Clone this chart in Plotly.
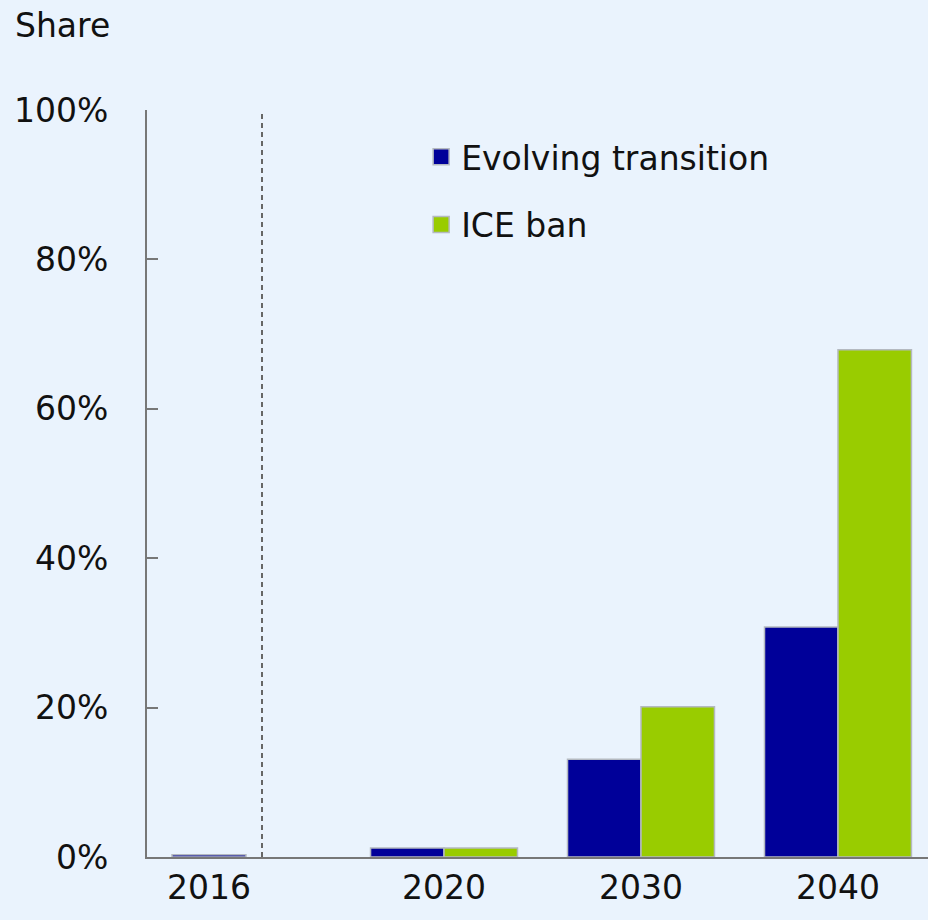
import plotly.graph_objects as go
from plotly.subplots import make_subplots

# Data
hist_years = ["2016"]
hist_share = [0.3]

proj_years = ["2020", "2030", "2040"]
evolving = [1.2, 13.1, 30.8]
ice_ban = [1.2, 20.1, 67.9]

series_names = ["Evolving transition", "ICE ban"]

y_ticks = [0, 20, 40, 60, 80, 100]
y_labels = ["0%", "20%", "40%", "60%", "80%", "100%"]

BLUE = "#000099"
GREEN = "#99CC00"
EDGE = "#B4B9C0"
BG = "#EAF3FD"
FONT = "DejaVu Sans"

fig = make_subplots(rows=1, cols=2, shared_yaxes=True, horizontal_spacing=0)

fig.add_trace(go.Bar(x=hist_years, y=hist_share, marker=dict(color=BLUE, line=dict(color=EDGE, width=1.5)),
                     width=0.643, showlegend=False), row=1, col=1)
fig.add_trace(go.Bar(x=proj_years, y=evolving, name=series_names[0],
                     marker=dict(color=BLUE, line=dict(color=EDGE, width=1.5)), showlegend=False), row=1, col=2)
fig.add_trace(go.Bar(x=proj_years, y=ice_ban, name=series_names[1],
                     marker=dict(color=GREEN, line=dict(color=EDGE, width=1.5)), showlegend=False), row=1, col=2)

# legend entries (square markers)
for name, col in zip(series_names, [BLUE, GREEN]):
    fig.add_trace(go.Scatter(x=[None], y=[None], mode="markers", name=name, legendgroup=name,
                             marker=dict(symbol="square", size=16, color=col, line=dict(color=EDGE, width=1.5))),
                  row=1, col=2)

split = (262 - 147) / 781

fig.update_layout(
    width=928, height=920,
    margin=dict(l=147, r=0, t=110, b=63),
    paper_bgcolor=BG, plot_bgcolor=BG,
    font=dict(family=FONT, size=33, color="#111111"),
    barmode="group", bargap=0.254, bargroupgap=0,
    legend=dict(x=0.351, y=0.975, xanchor="left", yanchor="top", bgcolor="rgba(0,0,0,0)",
                font=dict(size=33), itemsizing="trace", tracegroupgap=22),
    xaxis=dict(domain=[0, split], range=[-0.539, 0.461], showline=True, linecolor="#777777", linewidth=2,
               ticks="", ticklabelstandoff=0),
    xaxis2=dict(domain=[split, 1], range=[-0.924, 2.457], showline=True, linecolor="#777777", linewidth=2,
                ticks="", ticklabelstandoff=0),
    yaxis=dict(range=[0, 100], tickmode="array", tickvals=y_ticks, ticktext=y_labels, showgrid=False,
               zeroline=False, showline=True, linecolor="#777777", linewidth=2,
               ticks="inside", ticklen=11, tickcolor="#777777", tickwidth=2, ticklabelstandoff=30),
    yaxis2=dict(showgrid=False, zeroline=False, showline=False, ticks=""),
)

fig.add_shape(type="line", xref="paper", yref="paper", x0=split, x1=split, y0=0, y1=1,
              line=dict(color="#666666", width=2, dash="5px,4px"))

fig.add_annotation(text="Share", xref="paper", yref="paper", x=-134 / 781, y=1 + 84 / 747,
                   xanchor="left", yanchor="middle", showarrow=False, font=dict(size=33))

fig.write_html("out.html", config={"displayModeBar": False},
               post_script="document.body.style.margin='0';")
